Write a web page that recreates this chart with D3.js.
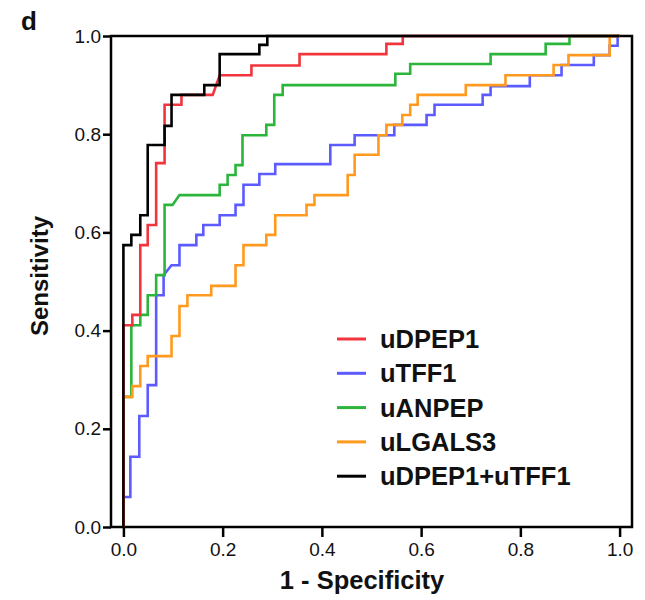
<!DOCTYPE html>
<html>
<head>
<meta charset="utf-8">
<script src="https://cdn.jsdelivr.net/npm/d3@7/dist/d3.min.js"></script>
<style>
  html, body { margin: 0; padding: 0; background: #fff; }
  svg { display: block; }
</style>
</head>
<body>
<svg id="chart" width="645" height="600"></svg>
<script>
// ---- Data: ROC curve points [1 - Specificity, Sensitivity] ----
const seriesNames = ["uDPEP1", "uTFF1", "uANPEP", "uLGALS3", "uDPEP1+uTFF1"];

const rocDPEP1 = [[0,0],[0,0.411],[0.018,0.411],[0.018,0.432],[0.034,0.432],[0.034,0.574],[0.049,0.574],[0.049,0.615],[0.066,0.615],[0.066,0.741],[0.083,0.741],[0.083,0.86],[0.117,0.86],[0.117,0.88],[0.18,0.88],[0.194,0.92],[0.258,0.92],[0.258,0.94],[0.355,0.94],[0.355,0.963],[0.53,0.963],[0.53,0.984],[0.563,0.984],[0.563,1],[1,1]];

const rocTFF1 = [[0,0],[0,0.061],[0.014,0.061],[0.014,0.143],[0.032,0.143],[0.032,0.226],[0.049,0.226],[0.049,0.289],[0.066,0.289],[0.066,0.472],[0.081,0.472],[0.081,0.513],[0.097,0.533],[0.113,0.533],[0.113,0.574],[0.147,0.574],[0.147,0.595],[0.161,0.595],[0.161,0.615],[0.194,0.615],[0.194,0.635],[0.226,0.635],[0.226,0.656],[0.242,0.656],[0.242,0.697],[0.274,0.697],[0.274,0.719],[0.306,0.719],[0.306,0.739],[0.417,0.739],[0.417,0.778],[0.466,0.778],[0.466,0.798],[0.546,0.798],[0.546,0.819],[0.611,0.819],[0.611,0.839],[0.627,0.839],[0.627,0.86],[0.724,0.86],[0.724,0.88],[0.74,0.88],[0.74,0.898],[0.819,0.898],[0.819,0.92],[0.883,0.92],[0.883,0.941],[0.948,0.941],[0.948,0.961],[0.98,0.961],[0.98,0.98],[0.996,0.98],[0.996,1],[1,1]];

const rocANPEP = [[0,0],[0,0.265],[0.016,0.265],[0.016,0.411],[0.034,0.411],[0.034,0.432],[0.049,0.432],[0.049,0.472],[0.066,0.472],[0.066,0.513],[0.083,0.513],[0.083,0.656],[0.099,0.656],[0.113,0.676],[0.194,0.676],[0.194,0.697],[0.21,0.697],[0.21,0.717],[0.226,0.717],[0.226,0.737],[0.24,0.737],[0.24,0.798],[0.288,0.798],[0.288,0.819],[0.304,0.819],[0.304,0.88],[0.321,0.88],[0.321,0.90],[0.548,0.90],[0.548,0.923],[0.578,0.923],[0.578,0.943],[0.74,0.943],[0.74,0.963],[0.851,0.963],[0.851,0.984],[0.899,0.984],[0.899,1],[1,1]];

const rocLGALS3 = [[0,0],[0,0.265],[0.018,0.265],[0.018,0.287],[0.034,0.287],[0.034,0.328],[0.049,0.328],[0.049,0.348],[0.097,0.348],[0.097,0.389],[0.113,0.389],[0.113,0.45],[0.129,0.45],[0.129,0.472],[0.177,0.472],[0.177,0.491],[0.226,0.491],[0.226,0.533],[0.242,0.533],[0.242,0.574],[0.288,0.574],[0.288,0.595],[0.306,0.595],[0.306,0.635],[0.369,0.635],[0.369,0.656],[0.385,0.656],[0.385,0.676],[0.452,0.676],[0.452,0.717],[0.466,0.717],[0.466,0.758],[0.514,0.758],[0.514,0.798],[0.53,0.798],[0.53,0.819],[0.562,0.819],[0.562,0.839],[0.578,0.839],[0.578,0.86],[0.593,0.86],[0.593,0.88],[0.69,0.88],[0.69,0.90],[0.77,0.90],[0.77,0.92],[0.867,0.92],[0.867,0.941],[0.897,0.941],[0.897,0.961],[0.98,0.961],[0.98,1],[1,1]];

const rocCombined = [[0,0],[0,0.574],[0.016,0.574],[0.016,0.595],[0.034,0.595],[0.034,0.635],[0.049,0.635],[0.049,0.778],[0.083,0.778],[0.083,0.817],[0.097,0.817],[0.097,0.88],[0.163,0.88],[0.163,0.90],[0.194,0.90],[0.194,0.963],[0.274,0.963],[0.274,0.982],[0.29,0.982],[0.29,1],[1,1]];

const tickValues = [0, 0.2, 0.4, 0.6, 0.8, 1.0];
const tickLabels = ["0.0", "0.2", "0.4", "0.6", "0.8", "1.0"];

const colors = {
  "uDPEP1": "#f2353c",
  "uTFF1": "#5b5bff",
  "uANPEP": "#2bb53b",
  "uLGALS3": "#ff9a1e",
  "uDPEP1+uTFF1": "#000000"
};

const seriesData = {
  "uDPEP1": rocDPEP1,
  "uTFF1": rocTFF1,
  "uANPEP": rocANPEP,
  "uLGALS3": rocLGALS3,
  "uDPEP1+uTFF1": rocCombined
};
const drawOrder = ["uTFF1", "uANPEP", "uLGALS3", "uDPEP1", "uDPEP1+uTFF1"];

// ---- Layout ----
const svg = d3.select("#chart");
const frame = { left: 111, right: 632, top: 36, bottom: 527 };

const x = d3.scaleLinear().domain([-0.025, 1.025]).range([frame.left, frame.right]);
const y = d3.scaleLinear().domain([0, 1]).range([frame.bottom, frame.top]);

const fontFamily = "Arial, 'Liberation Sans', Helvetica, sans-serif";

// Frame (box)
svg.append("rect")
  .attr("x", frame.left).attr("y", frame.top)
  .attr("width", frame.right - frame.left)
  .attr("height", frame.bottom - frame.top)
  .attr("fill", "none").attr("stroke", "#000").attr("stroke-width", 2.5);

// X axis
const xAxis = d3.axisBottom(x)
  .tickValues(tickValues)
  .tickFormat((d, i) => tickLabels[i])
  .tickSize(10).tickSizeOuter(0).tickPadding(6);
const gx = svg.append("g").attr("transform", `translate(0,${frame.bottom})`).call(xAxis);
gx.select(".domain").remove();
gx.selectAll(".tick line").attr("stroke", "#000").attr("stroke-width", 2.5);
gx.selectAll(".tick text").attr("font-family", fontFamily).attr("font-size", 19).attr("fill", "#111");

// Y axis
const yAxis = d3.axisLeft(y)
  .tickValues(tickValues)
  .tickFormat((d, i) => tickLabels[i])
  .tickSize(8).tickSizeOuter(0).tickPadding(2);
const gy = svg.append("g").attr("transform", `translate(${frame.left},0)`).call(yAxis);
gy.select(".domain").remove();
gy.selectAll(".tick line").attr("stroke", "#000").attr("stroke-width", 2.5);
gy.selectAll(".tick text").attr("font-family", fontFamily).attr("font-size", 19).attr("fill", "#111");

// Curves
const line = d3.line().x(d => x(d[0])).y(d => y(d[1]));
drawOrder.forEach(name => {
  svg.append("path")
    .datum(seriesData[name])
    .attr("d", line)
    .attr("fill", "none")
    .attr("stroke", colors[name])
    .attr("stroke-width", 2.6)
    .attr("stroke-linejoin", "miter");
});

// Axis titles
svg.append("text")
  .attr("x", 362).attr("y", 589)
  .attr("text-anchor", "middle")
  .attr("font-family", fontFamily).attr("font-weight", "bold").attr("font-size", 25.5)
  .attr("fill", "#111")
  .text("1 - Specificity");

svg.append("text")
  .attr("transform", `translate(48,276) rotate(-90)`)
  .attr("text-anchor", "middle")
  .attr("font-family", fontFamily).attr("font-weight", "bold").attr("font-size", 24)
  .attr("fill", "#111")
  .text("Sensitivity");

// Panel label
svg.append("text")
  .attr("x", 21).attr("y", 30)
  .attr("font-family", fontFamily).attr("font-weight", "bold").attr("font-size", 26)
  .attr("fill", "#111")
  .text("d");

// Legend
const legend = svg.append("g").attr("transform", "translate(337,339)");
seriesNames.forEach((name, i) => {
  const g = legend.append("g").attr("transform", `translate(0,${i * 34.3})`);
  g.append("line")
    .attr("x1", 0).attr("x2", 29).attr("y1", 0).attr("y2", 0)
    .attr("stroke", colors[name]).attr("stroke-width", 3);
  g.append("text")
    .attr("x", 43).attr("y", 9)
    .attr("font-family", fontFamily).attr("font-weight", "bold").attr("font-size", 25.5)
    .attr("fill", "#111")
    .text(name);
});
</script>
</body>
</html>
